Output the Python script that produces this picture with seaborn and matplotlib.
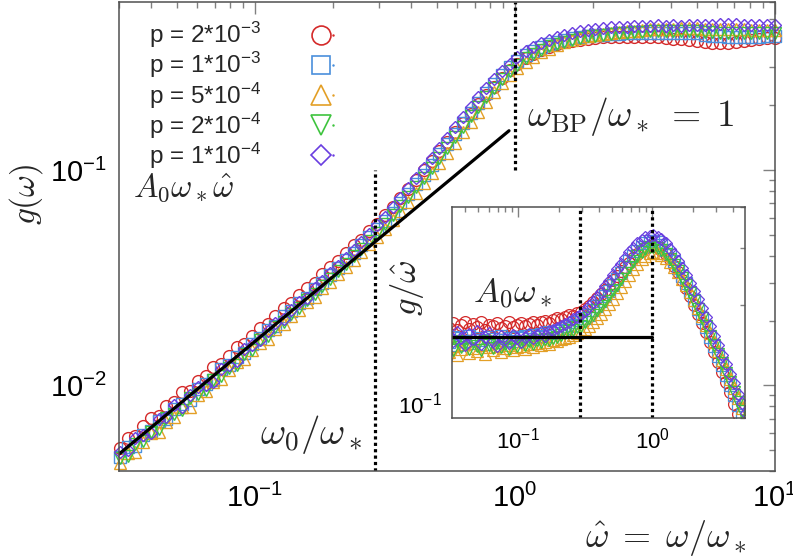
import numpy as np
import pandas as pd
import matplotlib
matplotlib.use("Agg")
import matplotlib.pyplot as plt
import seaborn as sns
from matplotlib.lines import Line2D
from matplotlib.legend_handler import HandlerTuple
from matplotlib.ticker import LogLocator, NullFormatter, LogFormatterSciNotation

# ---------------- data ----------------
omega_hat = [0.0302, 0.0324, 0.0347, 0.0372, 0.0398, 0.0427, 0.0457, 0.0490, 0.0525, 0.0562,
             0.0603, 0.0646, 0.0692, 0.0741, 0.0794, 0.0851, 0.0912, 0.0977, 0.105, 0.112,
             0.120, 0.129, 0.138, 0.148, 0.158, 0.170, 0.182, 0.195, 0.209, 0.224,
             0.240, 0.257, 0.275, 0.295, 0.316, 0.339, 0.363, 0.389, 0.417, 0.447,
             0.479, 0.513, 0.550, 0.589, 0.631, 0.676, 0.724, 0.776, 0.832, 0.891,
             0.955, 1.02, 1.10, 1.17, 1.26, 1.35, 1.45, 1.55, 1.66, 1.78,
             1.91, 2.04, 2.19, 2.34, 2.51, 2.69, 2.88, 3.09, 3.31, 3.55,
             3.80, 4.07, 4.37, 4.68, 5.01, 5.37, 5.75, 6.17, 6.61, 7.08,
             7.59, 8.13, 8.71, 9.33, 10.0]

# g / omega_hat for each p
ratio_p2e3 = [0.170, 0.176, 0.168, 0.174, 0.178, 0.169, 0.175, 0.171, 0.177, 0.168, 0.174, 0.172,
              0.176, 0.170, 0.173, 0.177, 0.171, 0.174,
              0.176, 0.172, 0.175, 0.178, 0.174, 0.177, 0.179, 0.176, 0.180, 0.182,
              0.181, 0.184, 0.186, 0.185, 0.189, 0.191,
              0.195, 0.199, 0.204, 0.210, 0.216, 0.223, 0.230, 0.238, 0.246, 0.254, 0.262, 0.270,
              0.278, 0.286, 0.293, 0.299, 0.303,
              0.304, 0.301, 0.295, 0.286, 0.276, 0.264, 0.252, 0.239, 0.226, 0.213, 0.200, 0.188,
              0.176, 0.165, 0.154, 0.144, 0.134, 0.125, 0.116, 0.108, 0.0995, 0.0925, 0.0855, 0.0790,
              0.0732, 0.0678, 0.0629, 0.0589, 0.0554, 0.0523, 0.0494, 0.0466, 0.0438, 0.0410]
ratio_p1e3 = [0.154, 0.160, 0.151, 0.158, 0.155, 0.161, 0.153, 0.159, 0.156, 0.152, 0.160, 0.157,
              0.154, 0.161, 0.156, 0.159, 0.155, 0.160,
              0.158, 0.161, 0.157, 0.162, 0.160, 0.163, 0.161, 0.165, 0.164, 0.167,
              0.168, 0.170, 0.172, 0.174, 0.177, 0.180,
              0.183, 0.187, 0.193, 0.199, 0.206, 0.213, 0.221, 0.230, 0.240, 0.250, 0.261, 0.272,
              0.283, 0.293, 0.302, 0.309, 0.314,
              0.315, 0.312, 0.305, 0.295, 0.284, 0.272, 0.259, 0.246, 0.233, 0.220, 0.207, 0.194,
              0.182, 0.171, 0.160, 0.150, 0.140, 0.131, 0.122, 0.114, 0.106, 0.0985, 0.0920, 0.0860,
              0.0791, 0.0730, 0.0677, 0.0628, 0.0585, 0.0544, 0.0509, 0.0476, 0.0446, 0.0417]
ratio_p5e4 = [0.144, 0.150, 0.141, 0.147, 0.152, 0.143, 0.148, 0.145, 0.151, 0.142, 0.149, 0.146,
              0.150, 0.144, 0.148, 0.151, 0.146, 0.149,
              0.150, 0.147, 0.152, 0.149, 0.153, 0.151, 0.154, 0.152, 0.156, 0.155,
              0.157, 0.159, 0.160, 0.162, 0.164, 0.166,
              0.169, 0.173, 0.177, 0.182, 0.188, 0.194, 0.201, 0.209, 0.218, 0.227, 0.237, 0.247,
              0.257, 0.267, 0.276, 0.283, 0.288,
              0.290, 0.289, 0.285, 0.279, 0.271, 0.262, 0.252, 0.241, 0.230, 0.219, 0.207, 0.196,
              0.185, 0.174, 0.164, 0.154, 0.145, 0.136, 0.127, 0.119, 0.111, 0.104, 0.0970, 0.0905,
              0.0842, 0.0783, 0.0728, 0.0681, 0.0637, 0.0593, 0.0551, 0.0513, 0.0478, 0.0445]
ratio_p2e4 = [0.152, 0.146, 0.155, 0.149, 0.153, 0.147, 0.154, 0.150, 0.146, 0.155, 0.151, 0.148,
              0.153, 0.149, 0.152, 0.147, 0.153, 0.150,
              0.154, 0.151, 0.155, 0.152, 0.156, 0.154, 0.157, 0.156, 0.159, 0.160,
              0.162, 0.164, 0.166, 0.168, 0.171, 0.173,
              0.177, 0.182, 0.187, 0.193, 0.199, 0.206, 0.214, 0.222, 0.231, 0.241, 0.251, 0.262,
              0.272, 0.282, 0.290, 0.297, 0.301,
              0.302, 0.300, 0.295, 0.287, 0.277, 0.266, 0.254, 0.242, 0.230, 0.218, 0.206, 0.194,
              0.183, 0.172, 0.161, 0.151, 0.142, 0.133, 0.124, 0.116, 0.108, 0.101, 0.0945, 0.0880,
              0.0816, 0.0757, 0.0700, 0.0651, 0.0607, 0.0568, 0.0531, 0.0497, 0.0465, 0.0434]
ratio_p1e4 = [0.162, 0.155, 0.165, 0.158, 0.151, 0.163, 0.157, 0.166, 0.152, 0.160, 0.164, 0.155,
              0.150, 0.161, 0.157, 0.153, 0.162, 0.158,
              0.154, 0.160, 0.163, 0.158, 0.162, 0.165, 0.161, 0.166, 0.168, 0.170,
              0.172, 0.175, 0.178, 0.181, 0.184, 0.188,
              0.192, 0.198, 0.205, 0.212, 0.220, 0.228, 0.237, 0.247, 0.257, 0.268, 0.279, 0.290,
              0.300, 0.309, 0.317, 0.323, 0.326,
              0.327, 0.324, 0.318, 0.309, 0.298, 0.286, 0.273, 0.260, 0.247, 0.234, 0.221, 0.208,
              0.196, 0.184, 0.172, 0.161, 0.151, 0.141, 0.132, 0.123, 0.115, 0.107, 0.100, 0.0935,
              0.0875, 0.0821, 0.0767, 0.0717, 0.0669, 0.0623, 0.0581, 0.0541, 0.0504, 0.0468]

p_labels = [r"p = 2*$\mathdefault{10^{-3}}$", r"p = 1*$\mathdefault{10^{-3}}$",
            r"p = 5*$\mathdefault{10^{-4}}$", r"p = 2*$\mathdefault{10^{-4}}$",
            r"p = 1*$\mathdefault{10^{-4}}$"]
series = [ratio_p2e3, ratio_p1e3, ratio_p5e4, ratio_p2e4, ratio_p1e4]

A0 = 0.16                 # slope of the low-frequency law
fit_x = [0.03, 0.95]      # extent of the A0*w*what line
inset_fit_x = [0.032, 1.0]
omega0 = 0.29             # omega_0 / omega_*
omega_bp = 1.0            # omega_BP / omega_*
split_y = 0.1
inset_max_x = 5.01

# ---------------- style ----------------
colors = ["#d42a2a", "#4a8fdc", "#e39f26", "#3ec43e", "#6a3de0"]
markers = ["o", "s", "^", "v", "D"]
msizes = [8.5, 8.0, 9.0, 9.0, 6.5]

sns.set_theme(style="white")
plt.rcParams["font.family"] = ["Liberation Sans", "DejaVu Sans"]
plt.rcParams["mathtext.fontset"] = "cm"

rows = []
for lab, vals in zip(p_labels, series):
    for w, r in zip(omega_hat, vals):
        rows.append({"p": lab, "w": w, "ratio": r, "g": r * w})
df = pd.DataFrame(rows)

fig = plt.figure(figsize=(7.93, 5.59), dpi=100)
ax = fig.add_axes([0.150, 0.157, 0.827, 0.839])
ins = fig.add_axes([0.570, 0.252, 0.369, 0.378])

def style_axes(a, lab_size, maj, mnr, pad):
    a.set_xscale("log")
    a.set_yscale("log")
    for s in a.spines.values():
        s.set_color("#505050")
        s.set_linewidth(1.1)
    a.tick_params(which="both", direction="in", top=True, right=True,
                  color="#808080", width=1.0, labelsize=lab_size, labelcolor="black")
    a.tick_params(which="major", length=maj, pad=pad)
    a.tick_params(which="minor", length=mnr)
    for axis in (a.xaxis, a.yaxis):
        axis.set_major_locator(LogLocator(base=10, numticks=10))
        axis.set_minor_locator(LogLocator(base=10, subs=np.arange(2, 10), numticks=12))
        axis.set_minor_formatter(NullFormatter())
        axis.set_major_formatter(LogFormatterSciNotation())

# ---- main axes ----
handles = []
for lab, c, m, ms in zip(p_labels, colors, markers, msizes):
    sub = df[df["p"] == lab]
    sns.lineplot(data=sub, x="w", y="g", ax=ax, estimator=None, sort=False,
                 linestyle="", marker=m, ms=ms, mfc="none", mec=c, mew=1.0,
                 clip_on=False, legend=False)
    handles.append((Line2D([], [], ls="", marker=m, ms=ms * 1.6, mfc="none", mec=c, mew=1.2),
                    Line2D([], [], ls="", marker=".", ms=1.5, color=c)))

fit_df = pd.DataFrame({"w": fit_x, "g": [A0 * x for x in fit_x]})
sns.lineplot(data=fit_df, x="w", y="g", ax=ax, color="black", lw=2.3, estimator=None)

style_axes(ax, 21, 8.5, 4.3, 9)
ax.set_xlim(0.03, 10)
ax.set_ylim(0.004, 0.6)
ax.vlines(omega0, 0.004, split_y, colors="black", linestyles=(0, (1, 1)), lw=2.3)
ax.vlines(omega_bp, split_y, 0.6, colors="black", linestyles=(0, (1, 1)), lw=2.3)

ax.set_ylabel(r"$g(\omega)$", fontsize=24)
ax.yaxis.set_label_coords(-0.112, 0.59)
ax.set_xlabel(r"$\hat{\omega} \;=\; \omega/\omega_*$", fontsize=26, ha="right")
ax.xaxis.set_label_coords(0.957, -0.10)

ax.text(0.0341, 0.0742, r"$A_0\omega_*\hat{\omega}$", fontsize=23.5, ha="left", va="baseline")
ax.text(0.1045, 0.00533, r"$\omega_0/\omega_*$", fontsize=28, ha="left", va="baseline")
ax.text(1.11, 0.16, r"$\omega_{\rm BP}/\omega_* \;=\; 1$", fontsize=27, ha="left", va="baseline")

leg = ax.legend(handles, p_labels, loc="upper left", bbox_to_anchor=(0.046, 0.962),
                frameon=False, fontsize=17.5, markerfirst=False, handlelength=1.0,
                handletextpad=2.2, labelspacing=0.0, borderpad=0, borderaxespad=0,
                handler_map={tuple: HandlerTuple(ndivide=None, pad=0)})

# ---- inset ----
ins.set_facecolor("white")
isub_all = df[df["w"] <= inset_max_x]
for lab, c, m, ms in zip(p_labels, colors, markers, msizes):
    sub = isub_all[isub_all["p"] == lab]
    sns.lineplot(data=sub, x="w", y="ratio", ax=ins, estimator=None, sort=False,
                 linestyle="", marker=m, ms=ms, mfc="none", mec=c, mew=0.9,
                 legend=False)
ifit = pd.DataFrame({"w": inset_fit_x, "ratio": [A0, A0]})
sns.lineplot(data=ifit, x="w", y="ratio", ax=ins, color="black", lw=2.3, estimator=None)
style_axes(ins, 16, 7, 3.5, 7)
ins.set_xlim(0.032, 4.9)
ins.set_ylim(0.09, 0.40)
ins.axvline(omega0, color="black", ls=(0, (1, 1)), lw=2.3)
ins.axvline(omega_bp, color="black", ls=(0, (1, 1)), lw=2.3)
ins.set_xlabel("")
ins.set_ylabel(r"$g/\hat{\omega}$", fontsize=25)
ins.yaxis.set_label_coords(-0.09, 0.62)
ins.text(0.046, 0.204, r"$A_0\omega_*$", fontsize=25, ha="left", va="baseline")

fig.savefig("out.png", dpi=100)
